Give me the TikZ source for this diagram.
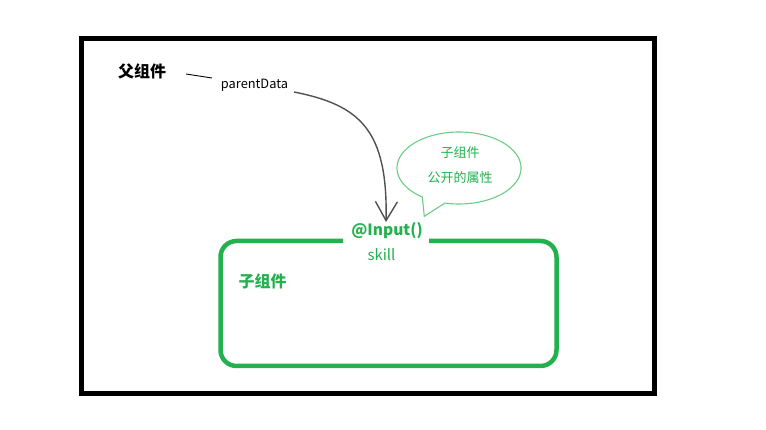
\documentclass[tikz,border=0pt]{standalone}
\usepackage{fontspec}
\setmainfont{Noto Sans CJK SC}
\usetikzlibrary{arrows.meta}
\definecolor{pgreen}{HTML}{22B14C}
\definecolor{bgreen}{HTML}{6CCD86}
\definecolor{arrgray}{HTML}{505050}
\begin{document}
\begin{tikzpicture}[x=1pt,y=-1pt,
  lbl/.style={inner sep=0pt, anchor=center},
  frame/.style={line width=5pt, black},
  childbox/.style={line width=4.5pt, pgreen, rounded corners=16pt},
  bubbleline/.style={line width=1.1pt, bgreen},
  flow/.style={arrgray, line width=1.4pt, -{Straight Barb[length=19pt,width=22pt,line width=1.4pt]}},
  thin/.style={black, line width=0.9pt}]
\useasboundingbox (0,0) rectangle (766,430);
% outer frame
\draw[frame] (81.5,38.5) rectangle (654.5,393.5);
% child box with gap for label
\draw[childbox] (343,241) -- (220.5,241) -- (220.5,366) -- (556.5,366) -- (556.5,241) -- (429,241);
% labels
\node[lbl, font=\bfseries\fontsize{16}{16}\selectfont] (parent) at (142,71) {父组件};
\node[lbl, font=\fontsize{12.8}{12.8}\selectfont] (pd) at (254.5,85) {parentData};
\node[lbl, text=pgreen, font=\bfseries\fontsize{15.5}{15.5}\selectfont] (inp) at (387,231) {@Input()};
\node[lbl, text=pgreen, font=\fontsize{15}{15}\selectfont] (skill) at (381.5,255) {skill};
\node[lbl, text=pgreen, font=\bfseries\fontsize{16}{16}\selectfont] (child) at (262.5,281) {子组件};
% connector parent -> parentData
\coordinate (l1) at (186,74);
\coordinate (l2) at (212,78);
\draw[thin] (l1) -- (l2);
% arrow parentData -> @Input()
\coordinate (a1) at (294,92);
\coordinate (a2) at (386,222);
\draw[flow] (a1) .. controls (360,105) and (388,130) .. (a2);
% speech bubble
\fill[white] plot[domain=126.3:463.1, samples=120, smooth] ({459+62*cos(\x)}, {168+36*sin(\x)}) -- (424.3,216.3) -- cycle;
\draw[bubbleline] plot[domain=126.3:463.1, samples=120, smooth] ({459+62*cos(\x)}, {168+36*sin(\x)}) -- (424.3,216.3) -- cycle;
\node[lbl, text=pgreen, font=\fontsize{13}{13}\selectfont, align=center] (bub) at (460,165.5) {子组件\\[12pt]公开的属性};
\end{tikzpicture}
\end{document}
